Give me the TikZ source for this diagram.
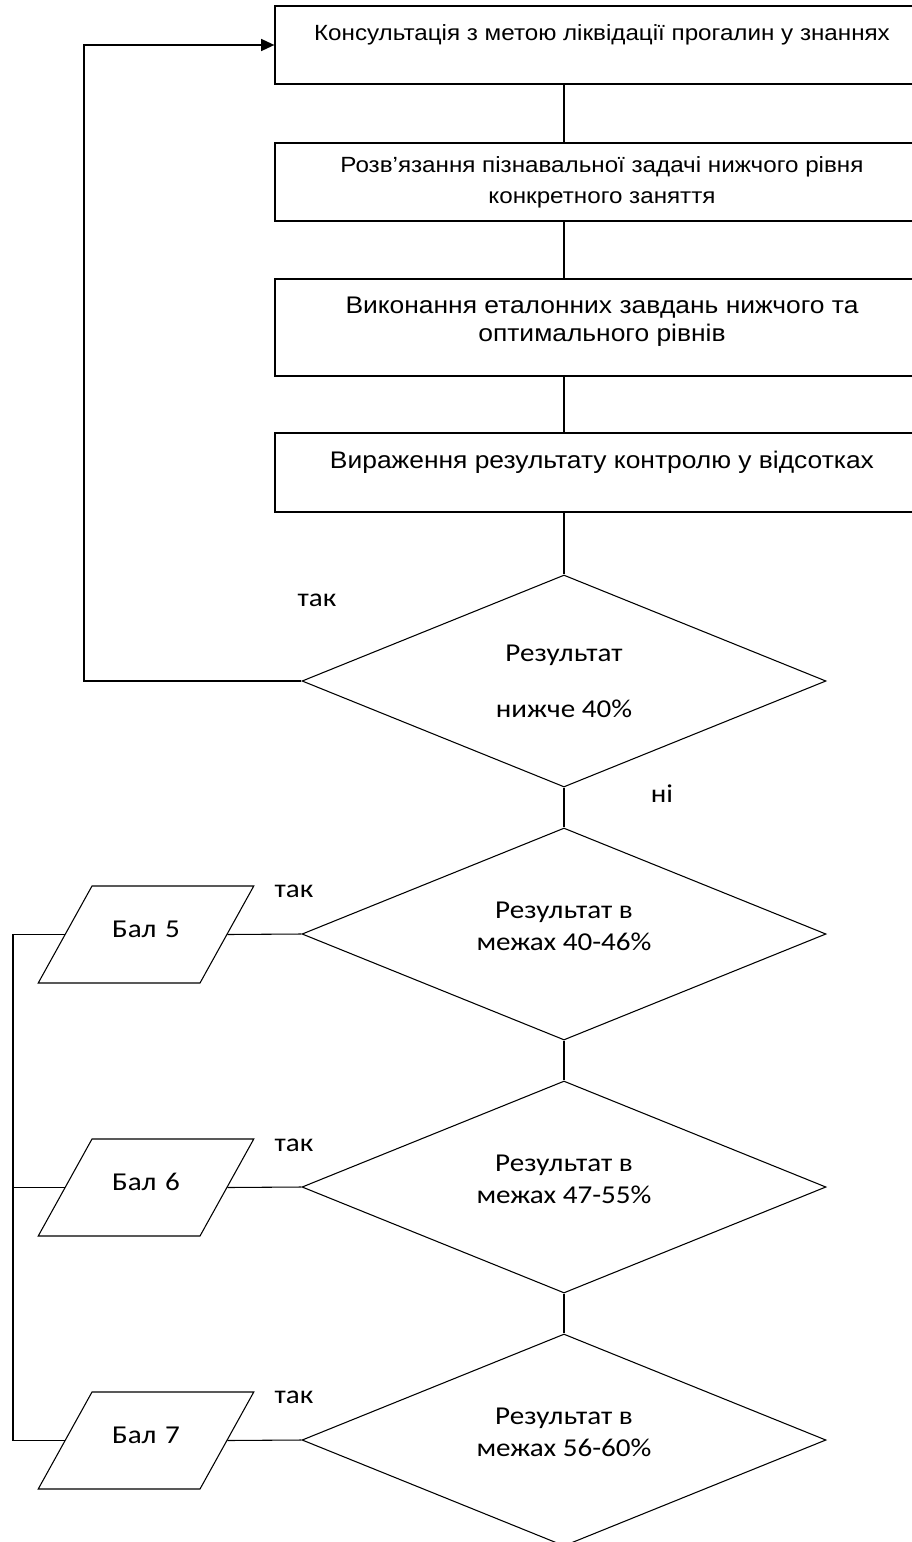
\documentclass[tikz,border=0pt]{standalone}
\usepackage{fontspec}
\setmainfont{Liberation Sans}[FakeStretch=1.1]
\newfontfamily\calfont{Carlito}[FakeStretch=1.13]
\usetikzlibrary{arrows.meta, positioning, shapes.geometric}

\begin{document}
\begin{tikzpicture}[
  x=0.75pt, y=-0.75pt,
  box/.style      = {draw, line width=0.9pt, minimum width=490.5pt, align=center, inner ysep=0pt},
  decision/.style = {draw, diamond, aspect=2.5, line width=0.8pt, minimum width=393pt, minimum height=159pt,
                     inner sep=0pt, align=center, font=\calfont\fontsize{19.3}{24}\selectfont},
  score/.style    = {draw, trapezium, trapezium left angle=61, trapezium right angle=119,
                     inner sep=0pt, text width=81pt, align=center, text height=38.25pt, text depth=34.5pt,
                     line width=0.8pt, font=\calfont\fontsize{19.3}{23}\selectfont},
  lbl/.style      = {font=\calfont\fontsize{19.3}{23}\selectfont},
  line/.style     = {line width=0.8pt},
  arrow/.style    = {line width=1.3pt, -{Triangle[length=10pt, width=9pt]}}
]
  \useasboundingbox (0,0) rectangle (912,1542);

  % Steps of the lesson
  \node[box, text height=25.5pt, text depth=33pt, font=\fontsize{16.5}{20}\selectfont]
    (consult) at (602,45) {Консультація з метою ліквідації прогалин у знаннях};
  \node[box, minimum height=58.5pt, font=\fontsize{16.5}{23.25}\selectfont]
    (solve) at (602,182) {Розв’язання пізнавальної задачі нижчого рівня\\конкретного заняття};
  \node[box, minimum height=72.75pt, text depth=12pt, font=\fontsize{18}{21}\selectfont]
    (tasks) at (602,327.5) {Виконання еталонних завдань нижчого та\\оптимального рівнів};
  \node[box, text height=26.25pt, text depth=33pt, font=\fontsize{18}{22}\selectfont]
    (percent) at (602,472.5) {Вираження результату контролю у відсотках};

  % Checks of the result
  \node[decision] (low) at (564,681) {Результат\\[18pt]нижче 40\%};
  \node[decision, text depth=12pt] (r5) at (564,934) {Результат в\\межах 40-46\%};
  \node[decision, text depth=12pt] (r6) at (564,1187) {Результат в\\межах 47-55\%};
  \node[decision, text depth=12pt] (r7) at (564,1440) {Результат в\\межах 56-60\%};

  % Marks
  \node[score] (bal5) at (146,934.5) {Бал 5};
  \node[score] (bal6) at (146,1187.5) {Бал 6};
  \node[score] (bal7) at (146,1440.5) {Бал 7};

  % Answers
  \node[lbl] (yeslow) at (317,600) {так};
  \node[lbl] (nolow) at (662,794) {ні};
  \node[lbl] (yes5) at (294,891) {так};
  \node[lbl] (yes6) at (294,1145) {так};
  \node[lbl] (yes7) at (294,1397) {так};

  % Main line
  \draw[line] (low.north |- consult.south) -- (low.north |- solve.north);
  \draw[line] (low.north |- solve.south) -- (low.north |- tasks.north);
  \draw[line] (low.north |- tasks.south) -- (low.north |- percent.north);
  \draw[line] (low.north |- percent.south) -- (low.north);
  \draw[line] (low.south) -- (r5.north);
  \draw[line] (r5.south) -- (r6.north);
  \draw[line] (r6.south) -- (r7.north);

  % Back to the consultation
  \coordinate (loop) at (84,681);
  \draw[arrow] (low.west) -- (loop) |- (consult.west);

  % Marks on the left
  \draw[line] (r5.west) -- (bal5.right side);
  \draw[line] (r6.west) -- (bal6.right side);
  \draw[line] (r7.west) -- (bal7.right side);
  \coordinate (rail) at (13,0);
  \draw[line] (bal5.left side) -- (bal5.left side -| rail) -- (bal7.left side -| rail) -- (bal7.left side);
  \draw[line] (bal6.left side) -- (bal6.left side -| rail);

\end{tikzpicture}
\end{document}
